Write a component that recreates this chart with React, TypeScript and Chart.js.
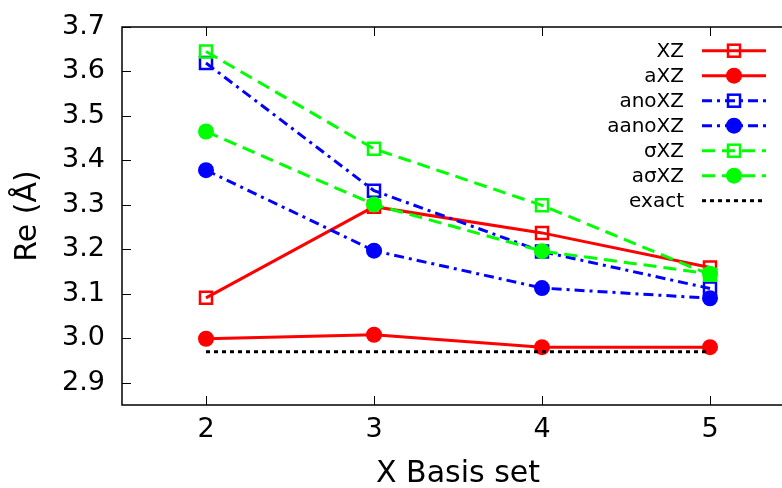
import React, { useEffect, useRef } from "react";
import { Chart, registerables } from "chart.js";

Chart.register(...registerables);

const FONT = '"DejaVu Sans", sans-serif';

const basisSets = [2, 3, 4, 5];
const xTickValues = [2, 3, 4, 5];
const yTickValues = [2.9, 3.0, 3.1, 3.2, 3.3, 3.4, 3.5, 3.6, 3.7];

const xzValues = [3.091, 3.296, 3.237, 3.159];
const aXZValues = [2.999, 3.008, 2.980, 2.980];
const anoXZValues = [3.619, 3.332, 3.195, 3.112];
const aanoXZValues = [3.378, 3.197, 3.113, 3.090];
const sigmaXZValues = [3.645, 3.426, 3.299, 3.143];
const aSigmaXZValues = [3.465, 3.301, 3.196, 3.145];
const exactValues = [2.970, 2.970, 2.970, 2.970];

const seriesLabels = ["XZ", "aXZ", "anoXZ", "aanoXZ", "σXZ", "aσXZ", "exact"];

const RED = "#ff0000";
const BLUE = "#0000ff";
const GREEN = "#00ff00";

function pts(values: number[]) {
  return basisSets.map((x, i) => ({ x, y: values[i] }));
}

function zeroPadding(s: any) {
  s.paddingLeft = 0;
  s.paddingRight = 0;
  s.paddingTop = 0;
  s.paddingBottom = 0;
}

const framePlugin = {
  id: "frame",
  afterDraw(chart: any) {
    const { ctx, chartArea } = chart;
    const { left, right, top, bottom } = chartArea;
    const xs = chart.scales.x;
    const ys = chart.scales.y;
    ctx.save();
    ctx.strokeStyle = "#000";
    ctx.lineWidth = 1.5;
    ctx.setLineDash([]);
    ctx.strokeRect(left, top, right - left, bottom - top);
    ctx.lineWidth = 1;
    ctx.beginPath();
    xTickValues.forEach((v) => {
      const px = Math.round(xs.getPixelForValue(v)) + 0.5;
      ctx.moveTo(px, bottom);
      ctx.lineTo(px, bottom - 9);
      ctx.moveTo(px, top);
      ctx.lineTo(px, top + 9);
    });
    yTickValues.forEach((v) => {
      const py = Math.round(ys.getPixelForValue(v)) + 0.5;
      ctx.moveTo(left, py);
      ctx.lineTo(left + 9, py);
      ctx.moveTo(right, py);
      ctx.lineTo(right - 9, py);
    });
    ctx.stroke();
    ctx.restore();
  },
};

const legendPlugin = {
  id: "gpLegend",
  afterDraw(chart: any) {
    const { ctx } = chart;
    const textRight = 684;
    const lineStart = 702;
    const lineEnd = 766;
    const markX = 734;
    const firstY = 50.7;
    const rowH = 25;
    chart.data.datasets.forEach((ds: any, i: number) => {
      const y = firstY + rowH * i;
      ctx.save();
      ctx.font = `20px ${FONT}`;
      ctx.textAlign = "right";
      ctx.textBaseline = "middle";
      ctx.fillStyle = "#000";
      ctx.fillText(ds.label, textRight, y + 1);
      ctx.strokeStyle = ds.borderColor;
      ctx.lineWidth = ds.borderWidth;
      ctx.setLineDash(ds.borderDash || []);
      ctx.beginPath();
      ctx.moveTo(lineStart, y);
      ctx.lineTo(lineEnd, y);
      ctx.stroke();
      ctx.setLineDash([]);
      if (ds.pointRadius > 0) {
        if (ds.pointStyle === "rect") {
          const h = ds.pointRadius * Math.SQRT1_2;
          ctx.lineWidth = ds.pointBorderWidth;
          ctx.strokeStyle = ds.pointBorderColor;
          ctx.strokeRect(markX - h, y - h, 2 * h, 2 * h);
        } else {
          ctx.fillStyle = ds.pointBackgroundColor;
          ctx.beginPath();
          ctx.arc(markX, y, ds.pointRadius, 0, Math.PI * 2);
          ctx.fill();
        }
      }
      ctx.restore();
    });
  },
};

function makeDataset(
  label: string,
  values: number[],
  color: string,
  dash: number[],
  filled: boolean,
  order: number
) {
  return {
    label,
    data: pts(values),
    borderColor: color,
    borderWidth: 3,
    borderDash: dash,
    pointStyle: filled ? "circle" : "rect",
    pointRadius: filled ? 8 : 8.5,
    pointHoverRadius: filled ? 8 : 8.5,
    pointBorderWidth: filled ? 0 : 2.5,
    pointBorderColor: color,
    pointBackgroundColor: filled ? color : "rgba(0,0,0,0)",
    fill: false,
    tension: 0,
    order,
  };
}

export default function App() {
  const canvasRef = useRef<HTMLCanvasElement | null>(null);

  useEffect(() => {
    if (!canvasRef.current) return;
    const blueDash = [10, 5, 3, 5];
    const greenDash = [13, 7];
    const datasets: any[] = [
      makeDataset(seriesLabels[0], xzValues, RED, [], false, 7),
      makeDataset(seriesLabels[1], aXZValues, RED, [], true, 6),
      makeDataset(seriesLabels[2], anoXZValues, BLUE, blueDash, false, 5),
      makeDataset(seriesLabels[3], aanoXZValues, BLUE, blueDash, true, 4),
      makeDataset(seriesLabels[4], sigmaXZValues, GREEN, greenDash, false, 3),
      makeDataset(seriesLabels[5], aSigmaXZValues, GREEN, greenDash, true, 2),
      {
        label: seriesLabels[6],
        data: pts(exactValues),
        borderColor: "#000",
        borderWidth: 3,
        borderDash: [4, 4],
        pointRadius: 0,
        pointHoverRadius: 0,
        fill: false,
        order: 1,
      },
    ];

    const chart = new Chart(canvasRef.current, {
      type: "line",
      data: { datasets },
      options: {
        responsive: false,
        animation: false,
        devicePixelRatio: 1,
        layout: { padding: { left: 0, top: 27, right: 6, bottom: 0 } },
        plugins: {
          legend: { display: false },
          tooltip: { enabled: false },
        },
        scales: {
          x: {
            type: "linear",
            min: 1.5,
            max: 5.5,
            afterBuildTicks: (s: any) => {
              s.ticks = xTickValues.map((v) => ({ value: v }));
            },
            afterFit: (s: any) => {
              s.height = 83;
              zeroPadding(s);
            },
            grid: { display: false, drawTicks: false },
            border: { display: false },
            ticks: {
              color: "#000",
              font: { family: FONT, size: 27 },
              padding: 9,
              maxRotation: 0,
              autoSkip: false,
              callback: (v: any) => String(v),
            },
            title: {
              display: true,
              text: "X Basis set",
              color: "#000",
              font: { family: FONT, size: 30, lineHeight: 0.9 },
              padding: { top: 0, bottom: 0 },
            },
          },
          y: {
            type: "linear",
            min: 2.85,
            max: 3.7,
            afterBuildTicks: (s: any) => {
              s.ticks = yTickValues.map((v) => ({ value: v }));
            },
            afterFit: (s: any) => {
              s.width = 122;
              zeroPadding(s);
            },
            grid: { display: false, drawTicks: false },
            border: { display: false },
            ticks: {
              color: "#000",
              font: { family: FONT, size: 27 },
              padding: 17,
              autoSkip: false,
              callback: (v: any) => Number(v).toFixed(1),
            },
            title: {
              display: true,
              text: "Re (Å)",
              color: "#000",
              font: { family: FONT, size: 30, lineHeight: 0.9 },
              padding: { top: 15, bottom: 0 },
            },
          },
        },
      },
      plugins: [framePlugin, legendPlugin],
    } as any);

    return () => chart.destroy();
  }, []);

  return (
    <div
      style={{
        position: "fixed",
        left: 0,
        top: 0,
        width: 782,
        height: 488,
        overflow: "hidden",
        background: "#fff",
      }}
    >
      <canvas
        ref={canvasRef}
        width={805}
        height={488}
        style={{ display: "block", width: 805, height: 488 }}
      />
    </div>
  );
}
